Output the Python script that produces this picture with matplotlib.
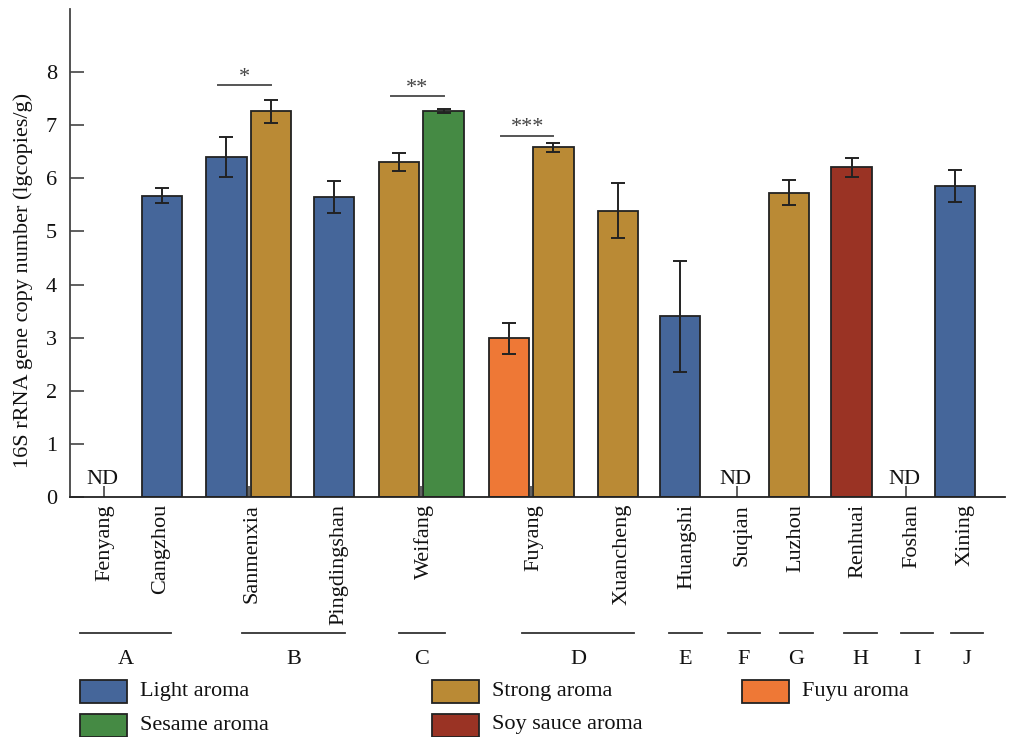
import matplotlib
matplotlib.use('Agg')
import matplotlib.pyplot as plt
from matplotlib.patches import Rectangle
import matplotlib.transforms as mtransforms

plt.rcParams['font.family'] = 'serif'
plt.rcParams['font.serif'] = ['Liberation Serif', 'DejaVu Serif']

# ---------------- data ----------------
cities = ['Fenyang', 'Cangzhou', 'Sanmenxia', 'Pingdingshan', 'Weifang', 'Fuyang',
          'Xuancheng', 'Huangshi', 'Suqian', 'Luzhou', 'Renhuai', 'Foshan', 'Xining']
group_labels = ['A', 'B', 'C', 'D', 'E', 'F', 'G', 'H', 'I', 'J']

aromas = ['Light aroma', 'Sesame aroma', 'Strong aroma', 'Soy sauce aroma', 'Fuyu aroma']

bar_city = ['Cangzhou', 'Sanmenxia', 'Sanmenxia', 'Pingdingshan', 'Weifang', 'Weifang',
            'Fuyang', 'Fuyang', 'Xuancheng', 'Huangshi', 'Luzhou', 'Renhuai', 'Xining']
bar_aroma = ['Light aroma', 'Light aroma', 'Strong aroma', 'Light aroma', 'Strong aroma',
             'Sesame aroma', 'Fuyu aroma', 'Strong aroma', 'Strong aroma', 'Light aroma',
             'Strong aroma', 'Soy sauce aroma', 'Light aroma']
bar_value = [5.67, 6.40, 7.26, 5.65, 6.31, 7.27, 2.99, 6.58, 5.39, 3.40, 5.73, 6.21, 5.86]
bar_err = [0.14, 0.38, 0.22, 0.30, 0.17, 0.04, 0.29, 0.09, 0.52, 1.04, 0.24, 0.18, 0.30]
nd_cities = ['Fenyang', 'Suqian', 'Foshan']

sig_cities = ['Sanmenxia', 'Weifang', 'Fuyang']
sig_marks = ['*', '**', '***']
sig_levels = [7.75, 7.54, 6.80]

# ---------------- layout / style ----------------
aroma_colors = {'Light aroma': '#45669A', 'Sesame aroma': '#458A44', 'Strong aroma': '#BA8A35',
                'Soy sauce aroma': '#9A3324', 'Fuyu aroma': '#EE7836'}
city_pos = {'Fenyang': 104, 'Cangzhou': 162, 'Sanmenxia': 248.7, 'Pingdingshan': 334,
            'Weifang': 421.2, 'Fuyang': 531.1, 'Xuancheng': 617.8, 'Huangshi': 680.2,
            'Suqian': 737, 'Luzhou': 789.2, 'Renhuai': 851.7, 'Foshan': 906, 'Xining': 955.2}
label_pos = {'Fenyang': 105, 'Cangzhou': 161, 'Sanmenxia': 252, 'Pingdingshan': 339,
             'Weifang': 424, 'Fuyang': 534, 'Xuancheng': 622, 'Huangshi': 687,
             'Suqian': 742, 'Luzhou': 796, 'Renhuai': 858, 'Foshan': 912, 'Xining': 965}
pair_off = 22.3
group_span = {'A': (80, 171), 'B': (242, 345), 'C': (399, 445), 'D': (522, 634),
              'E': (669, 702), 'F': (728, 760), 'G': (780, 813), 'H': (844, 877),
              'I': (901, 933), 'J': (951, 983)}
bar_w = 40.5

W, H = 1011, 737
fig = plt.figure(figsize=(W / 100, H / 100), dpi=100)
x0, x1, ytop, ybot = 70, 1005, 9, 497
ax = fig.add_axes([x0 / W, 1 - ybot / H, (x1 - x0) / W, (ybot - ytop) / H])
ax.set_xlim(x0, x1)
ppu = (497 - 72) / 8.0
ax.set_ylim(0, (ybot - ytop) / ppu)

# bar positions
counts = {c: bar_city.count(c) for c in set(bar_city)}
seen = {}
xs = []
for c in bar_city:
    k = seen.get(c, 0)
    seen[c] = k + 1
    if counts[c] == 2:
        xs.append(city_pos[c] + (-pair_off if k == 0 else pair_off))
    else:
        xs.append(city_pos[c])

colors = [aroma_colors[a] for a in bar_aroma]
ax.bar(xs, bar_value, width=bar_w, color=colors, edgecolor='#222222', linewidth=1.3, zorder=2)
ax.errorbar(xs, bar_value, yerr=bar_err, fmt='none', ecolor='#222222', elinewidth=1.4,
            capsize=5, capthick=1.4, zorder=3)

for c in nd_cities:
    ax.text(city_pos[c] - 2, 0.24, 'ND', ha='center', va='baseline', fontsize=16, color='#111111')

for c, m, lv in zip(sig_cities, sig_marks, sig_levels):
    xa = city_pos[c] - pair_off - 8
    xb = city_pos[c] + pair_off
    ax.plot([xa, xb], [lv, lv], color='#555555', lw=1.4, clip_on=False, zorder=3)
    ax.text((xa + xb) / 2, lv + 0.07, m, ha='center', va='baseline', fontsize=16, color='#444444')

# axes styling
for s in ['top', 'right']:
    ax.spines[s].set_visible(False)
ax.spines['left'].set_color('#444444')
ax.spines['bottom'].set_color('#222222')
ax.spines['left'].set_linewidth(1.3)
ax.spines['bottom'].set_linewidth(1.3)
ax.set_yticks(range(0, 9))
ax.tick_params(axis='y', direction='in', length=10, width=1.2, labelsize=16, colors='#444444',
               labelcolor='#111111', pad=9.5)

# labels as major ticks (no marks), tick marks as minor ticks
ax.set_xticks([label_pos[c] for c in cities])
ax.set_xticklabels(cities, rotation=90, fontsize=16, color='#111111')
ax.tick_params(axis='x', which='major', length=0, pad=5, labelcolor='#111111')
ax.set_xticks([city_pos[c] for c in cities], minor=True)
ax.tick_params(axis='x', which='minor', direction='in', length=8, width=1.2, colors='#444444')

fig.text(23 / W, 1 - 280 / H, '16S rRNA gene copy number (lgcopies/g)', rotation=90,
         ha='center', va='center', fontsize=16, color='#111111')

# group lines & letters
trans = mtransforms.blended_transform_factory(ax.transData, fig.transFigure)
for g in group_labels:
    a, b = group_span[g]
    ax.plot([a, b], [1 - 633 / H, 1 - 633 / H], color='#333333', lw=1.3, transform=trans, clip_on=False)
    ax.text((a + b) / 2, 1 - 659 / H, g, ha='center', va='center', fontsize=16,
            transform=trans, color='#111111')

# legend (manual)
leg_cols = [80, 432, 742]
leg_rows = [691.5, 725]
leg_layout = [(0, 0), (0, 1), (1, 0), (1, 1), (2, 0)]
for a, (ci, ri) in zip(aromas, leg_layout):
    px = leg_cols[ci]
    py = leg_rows[ri]
    fig.patches.append(Rectangle((px / W, 1 - (py + 11.5) / H), 47 / W, 23 / H,
                                 transform=fig.transFigure, facecolor=aroma_colors[a],
                                 edgecolor='#222222', linewidth=1.3))
    fig.text((px + 60) / W, 1 - py / H, a, ha='left', va='center', fontsize=16, color='#111111')

fig.savefig('out.png', dpi=100)
